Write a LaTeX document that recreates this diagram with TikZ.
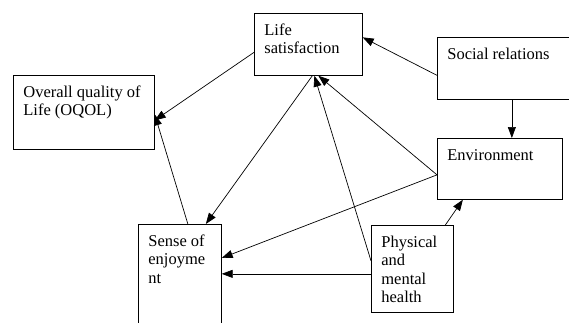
\documentclass[tikz,border=0pt]{standalone}
\usepackage{fontspec}
\setmainfont{Liberation Serif}
\usetikzlibrary{arrows.meta}
\newcommand{\boxtext}[3]{\parbox[t][#2][t]{#1}{\raggedright\strut #3}}

\begin{document}
\begin{tikzpicture}[x=1pt,y=-1pt,->,>={Triangle[length=11pt,width=8pt]},line width=0.7pt,
	box/.style={draw,anchor=north west,inner xsep=10pt,inner ysep=9pt,font=\fontsize{16.5}{18.5}\selectfont}]
	\useasboundingbox (0,0) rectangle (569,322);

		\node[box](lifesat) at (254,13)  {\boxtext{88pt}{44pt}{Life\\satisfaction}};
		\node[box](social)  at (437,37)  {\boxtext{140pt}{44pt}{Social relations}};
		\node[box](oqol)    at (13,75)   {\boxtext{121pt}{56pt}{Overall quality of\\Life (OQOL)}};
		\node[box](env)     at (437,138) {\boxtext{105pt}{43pt}{Environment}};
		\node[box](sense)   at (138,224) {\boxtext{63pt}{102pt}{Sense of\\enjoyme\\nt}};
		\node[box](phys)    at (371,225) {\boxtext{62pt}{69pt}{Physical\\and\\mental\\health}};

		\draw[->] ([yshift=-8pt]lifesat.west) -- ([yshift=-8pt]oqol.east);
		\draw[->] ([yshift=-7pt]social.west) -- ([yshift=7pt]lifesat.east);
		\draw[->] ([xshift=12pt]env.north |- social.south) -- ([xshift=12pt]env.north);
		\draw[->] ([xshift=4pt]lifesat.south) -- ([xshift=26pt]sense.north);
		\draw[->] ([yshift=-6pt]env.west) -- ([xshift=10pt]lifesat.south);
		\draw[->] ([yshift=8pt]phys.west) -- ([xshift=6pt]lifesat.south);
		\draw[->] ([yshift=-6pt]env.west) -- ([yshift=-34pt]sense.north east);
		\draw[->] ([yshift=-5pt]phys.west) -- ([yshift=-5pt]phys.west -| sense.east);
		\draw[->] ([xshift=33pt]phys.north) -- ([xshift=-37pt]env.south);
		\draw[->] ([xshift=8pt]sense.north) -- ([yshift=-2pt]oqol.east);
	\end{tikzpicture}
\end{document}
